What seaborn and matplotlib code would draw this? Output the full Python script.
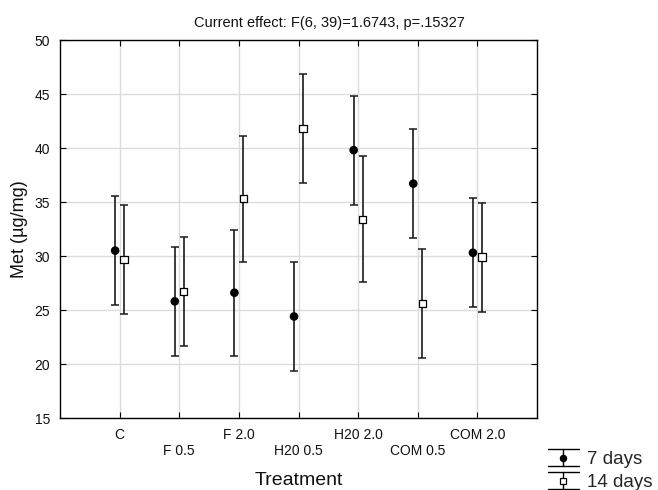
import numpy as np
import pandas as pd
import matplotlib
matplotlib.use("Agg")
import matplotlib.pyplot as plt
import seaborn as sns
from matplotlib.legend_handler import HandlerBase
from matplotlib.lines import Line2D

categories = ["C", "F 0.5", "F 2.0", "H20 0.5", "H20 2.0", "COM 0.5", "COM 2.0"]
mean_7 = [30.5, 25.8, 26.6, 24.4, 39.8, 36.7, 30.3]
err_7 = [5.05, 5.05, 5.85, 5.05, 5.05, 5.05, 5.05]
mean_14 = [29.7, 26.7, 35.3, 41.8, 33.4, 25.6, 29.9]
err_14 = [5.05, 5.05, 5.85, 5.05, 5.85, 5.05, 5.05]
groups = ["7 days", "14 days"]
title = "Current effect: F(6, 39)=1.6743, p=.15327"

sns.set_theme(style="whitegrid")
plt.rcParams['font.family'] = ['Liberation Sans', 'DejaVu Sans']

rows = []
for i, c in enumerate(categories):
    rows.append(dict(cat=c, idx=i, group="7 days", mean=mean_7[i], err=err_7[i]))
    rows.append(dict(cat=c, idx=i, group="14 days", mean=mean_14[i], err=err_14[i]))
df = pd.DataFrame(rows)
offsets = {"7 days": -0.075, "14 days": 0.075}
df["x"] = df["idx"] + df["group"].map(offsets)

fig = plt.figure(figsize=(6.58, 4.90), dpi=100)
ax = fig.add_axes([60 / 658, 1 - 418 / 490, 477 / 658, 378 / 490])
ax.set_facecolor("white")

for g in groups:
    sub = df[df["group"] == g]
    ax.errorbar(sub["x"], sub["mean"], yerr=sub["err"], fmt="none",
                ecolor="#1a1a1a", elinewidth=1.2, capsize=3, capthick=1.1, zorder=3)

sns.scatterplot(data=df, x="x", y="mean", hue="group", style="group",
                markers={"7 days": "o", "14 days": "s"},
                palette={"7 days": "black", "14 days": "white"},
                edgecolor="black", linewidth=0.9, s=28, legend=False, ax=ax, zorder=4)

ax.set_xlim(-1, 7)
ax.set_ylim(15, 50)
ax.set_xticks(range(len(categories)))
ax.set_xticklabels([c if i % 2 == 0 else "\n" + c for i, c in enumerate(categories)])
ax.set_yticks(range(15, 51, 5))
ax.tick_params(direction="in", length=4, width=0.8, color="black",
               top=True, right=True, bottom=True, left=True,
               labelsize=10, labelcolor="#111111", pad=7)
for s in ax.spines.values():
    s.set_visible(True)
    s.set_color("black")
    s.set_linewidth(1.0)
ax.grid(True, color="#dcdcdc", linewidth=1.0)
ax.set_axisbelow(True)

ax.set_xlabel("Treatment", fontsize=14, labelpad=10, color="#111111")
ax.set_ylabel("Met (\u00b5g/mg)", fontsize=13, labelpad=4.5, color="#111111")

fig.text(0.5, 1 - 23 / 490, title, ha="center", va="center", fontsize=10.5, color="#111111")


class EBHandler(HandlerBase):
    def __init__(self, marker, mfc):
        super().__init__()
        self.marker = marker
        self.mfc = mfc

    def create_artists(self, legend, orig_handle, xdescent, ydescent, width,
                       height, fontsize, trans):
        cx = width / 2 - xdescent
        cy = height / 2 - ydescent
        h = 6.3
        x0, x1 = -xdescent, width - xdescent
        arts = [
            Line2D([cx, cx], [cy - h, cy + h], color="black", lw=1.0),
            Line2D([x0, x1], [cy + h, cy + h], color="black", lw=1.0),
            Line2D([x0, x1], [cy - h, cy - h], color="black", lw=1.0),
            Line2D([cx], [cy], marker=self.marker, ms=4.5, mfc=self.mfc,
                   mec="black", mew=0.9, linestyle="none"),
        ]
        for a in arts:
            a.set_transform(trans)
        return arts


h1, h2 = Line2D([], []), Line2D([], [])
fig.legend(handles=[h1, h2], labels=groups,
           handler_map={h1: EBHandler("o", "black"), h2: EBHandler("s", "white")},
           loc="upper left", bbox_to_anchor=(548 / 658, 1 - 451 / 490),
           frameon=False, fontsize=13.5, handlelength=1.65, handletextpad=0.45,
           labelspacing=0.31, borderpad=0, borderaxespad=0)

fig.savefig("out.png", dpi=100, facecolor="white")
